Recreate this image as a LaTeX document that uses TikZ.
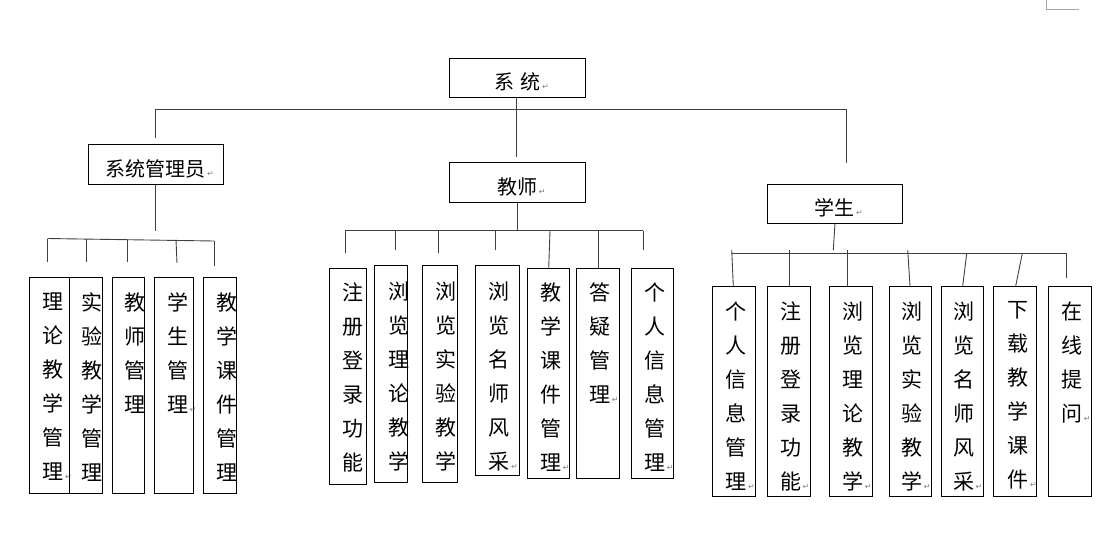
\documentclass[tikz,border=0pt]{standalone}
\usepackage{fontspec}
\usepackage{tikz}
\newfontfamily\cjk{Noto Sans CJK SC}
\newfontfamily\symf{DejaVu Sans}
\newcommand\retmark{\rlap{\symf\fontsize{8}{8}\selectfont\color{gray}\,↵}}
\newcommand\lowtext[1]{\smash{\raisebox{-12pt}{#1}}}
\tikzset{%
  role box/.style={
    draw,
    line width=1pt,
    inner sep=0pt,
    minimum width=135pt,
    minimum height=40pt,
    font=\cjk\fontsize{20}{24}\selectfont
  },
  leaf box/.style={
    draw,
    line width=1pt,
    inner sep=0pt,
    anchor=north west
  },
  leaf text/.style={
    inner sep=0pt,
    anchor=north,
    align=center,
    font=\cjk\fontsize{21}{34}\selectfont
  },
  link/.style={draw=black!75, line width=0.9pt},
}

\begin{document}
\begin{tikzpicture}[x=1pt, y=-1pt]
\useasboundingbox (0,0) rectangle (1107,547);
% stray corner at the top right
\draw[black!35, line width=0.8pt] (1046.7,0) -- (1046.7,9) -- (1079,9);

% upper level
\node[role box, minimum width=136.4pt, minimum height=39pt] (sys) at (517.5,77.8) {\lowtext{系\,\,统\retmark}};
\node[role box] (admin) at (155.8,164.3) {\lowtext{系统管理员\retmark}};
\node[role box, minimum width=136.4pt] (teacher) at (517.5,182.3) {\lowtext{教师\retmark}};
\node[role box, minimum height=39pt] (student) at (834.8,203.8) {\lowtext{学生\retmark}};

\coordinate (topL) at (155,109);
\coordinate (topR) at (846.7,109);
\coordinate (adminIn) at (155,137.7);
\coordinate (studentIn) at (846.7,163.3);
\coordinate (teacherIn) at (516.7,157.3);
\draw[link] (adminIn) -- (topL) -- (topR) -- (studentIn);
\draw[link] (sys.south -| teacherIn) -- (teacherIn);

% buses
\coordinate (adminOut) at (155,231);
\coordinate (adminBusL) at (47.7,238.5);
\coordinate (adminBusR) at (214.3,241);
\draw[link] (admin.south -| adminOut) -- (adminOut);
\draw[link] (adminBusL) -- (adminBusR);

\coordinate (teacherOut) at (517.7,230.7);
\coordinate (teacherBusL) at (345.3,230.7);
\coordinate (teacherBusR) at (643.3,230.7);
\draw[link] (teacher.south -| teacherOut) -- (teacherOut);
\draw[link] (teacherBusL) -- (teacherBusR);

\coordinate (studentOut) at (833.3,250);
\coordinate (studentBusL) at (731.7,253.3);
\coordinate (studentBusR) at (1066.7,253.3);
\draw[link] (835,223.3) -- (studentOut);
\draw[link] (studentBusL) -- (studentBusR);

% drops
\foreach \i/\xa/\ya/\xb/\yb in {
    a1/47.7/238.5/47.7/262, a2/86.7/239/86.7/262, a3/127.7/239.5/127.7/262,
    a4/176/240/177/263, a5/214.3/241/214.3/265.7,
    b1/345.3/230.7/345.3/253.3, b2/395.7/231/395.7/250, b3/438.3/230.7/438.3/253,
    b4/495.7/231/495.7/250, b5/550/230.7/548.7/268.3, b6/598.3/230.7/598.3/268.3,
    b7/643.3/230.7/643.3/250,
    c1/731.7/250/733.3/286, c2/789.3/250/789.3/286, c3/847.3/250/847.3/286,
    c4/907.7/250/910/286, c5/966.7/253.3/962.7/286, c6/1022.3/253.3/1015.7/286,
    c7/1066.7/253.3/1066.7/277.7}
{
    \coordinate (up_\i) at (\xa,\ya);
    \coordinate (dn_\i) at (\xb,\yb);
    \draw[link] (up_\i) -- (dn_\i);
}

% leaves
\foreach \n/\xa/\xb/\ya/\yb/\tx/\ty/\txt in {
    a1/29.3/69.3/277.3/493.3/53.3/292.5/{理\\论\\教\\学\\管\\理\retmark},
    a2/69.3/101.7/277.3/493.3/91.7/292.5/{实\\验\\教\\学\\管\\理},
    a3/112.3/144.3/277.3/493.3/135/292.5/{教\\师\\管\\理},
    a4/154.3/192.7/277.3/493.3/177.7/292.5/{学\\生\\管\\理\retmark},
    a5/203.3/235.7/277.3/493.3/226.7/292.5/{教\\学\\课\\件\\管\\理},
    b1/329.3/365.7/268.3/484.3/353.3/282.8/{注\\册\\登\\录\\功\\能},
    b2/374.3/406.7/265.3/482.3/399.3/281.2/{浏\\览\\理\\论\\教\\学},
    b3/422.3/457.3/265.3/482.3/446/281.2/{浏\\览\\实\\验\\教\\学},
    b4/475.3/518.7/265.3/475/499.3/281.2/{浏\\览\\名\\师\\风\\采\retmark},
    b5/526.7/569.3/268.3/478.3/551/282.8/{教\\学\\课\\件\\管\\理\retmark},
    b6/576.3/619.3/268.3/478.3/600/282.8/{答\\疑\\管\\理\retmark},
    b7/631.3/673.3/268.3/478.3/655/282.8/{个\\人\\信\\息\\管\\理\retmark},
    c1/712.3/755.3/286/496/736.3/301.2/{个\\人\\信\\息\\管\\理\retmark},
    c2/767.3/810.3/286/496/790.8/301.2/{注\\册\\登\\录\\功\\能\retmark},
    c3/829.3/872.3/286/496/853/301.2/{浏\\览\\理\\论\\教\\学\retmark},
    c4/888.7/931.3/286/496/912/301.2/{浏\\览\\实\\验\\教\\学\retmark},
    c5/940.7/983.3/286/496/963.8/301.2/{浏\\览\\名\\师\\风\\采\retmark},
    c6/993.3/1036.3/286/496/1018.3/301.2/{下\\载\\教\\学\\课\\件\retmark},
    c7/1048.3/1091/286/496/1072/301.2/{在\\线\\提\\问\retmark}}
{
    \pgfmathsetmacro\w{\xb-\xa}
    \pgfmathsetmacro\h{\yb-\ya}
    \node[leaf box, minimum width=\w pt, minimum height=\h pt] (box_\n) at (\xa,\ya) {};
    \node[leaf text] (txt_\n) at (\tx,\ty) {\txt};
}
\end{tikzpicture}
\end{document}
